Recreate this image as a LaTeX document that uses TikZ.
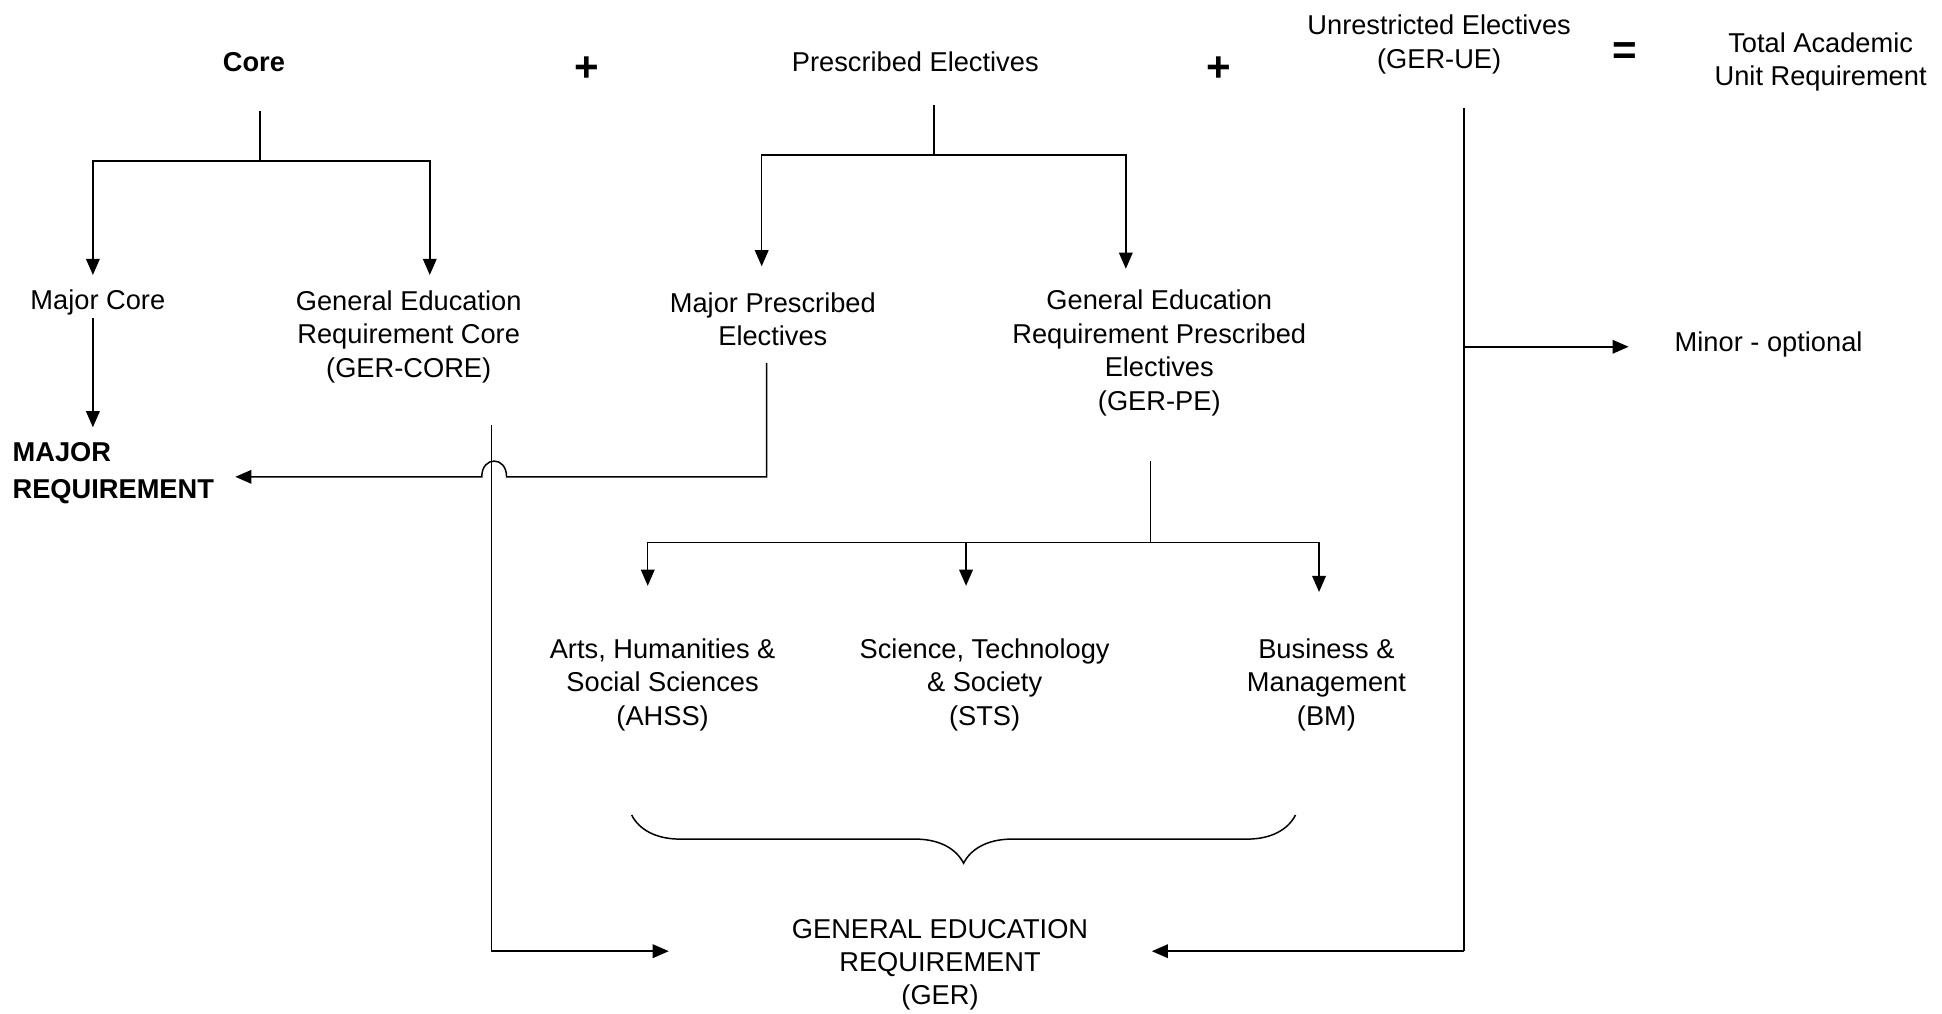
\documentclass[tikz,border=0pt]{standalone}
\usepackage{fontspec}
\setmainfont{Liberation Sans}
\usetikzlibrary{arrows.meta,positioning,decorations.pathreplacing}

\begin{document}
\begin{tikzpicture}[% styles for the whole picture, override case-by-case
			x=1pt,y=-1pt,		% one unit per pixel, y going down
			every node/.style={
				align=center,  		% so that the "\\" for line break works
				inner sep=0pt,
				font=\fontsize{22}{27}\selectfont
			},
			heavy/.style={font=\fontsize{22}{30}\selectfont\bfseries},
			sign/.style={font=\fontsize{34}{34}\selectfont\bfseries},
			wire/.style={draw,line width=1.2pt},
			flow/.style={wire,-{Triangle[length=13pt,width=11pt]}},
			every edge/.style={wire}
		]
		\useasboundingbox (0,0) rectangle (1568,818);
		% top row
		\node[heavy](Core) at (205,50){Core};
		\node[sign](PlusA) at (474,56){+};
		\node(Presc) at (739,50){Prescribed Electives};
		\node[sign](PlusB) at (984,56){+};
		\node(Unres) at (1162,36){Unrestricted Electives\\(GER-UE)};
		\node[sign](Eq) at (1312,43){=};
		\node(Total) at (1470,50){Total Academic\\Unit Requirement};
		% second row
		\node(MajCore) at (79,244){Major Core};
		\node(GerCore) at (330,272){General Education\\Requirement Core\\(GER-CORE)};
		\node(MajPresc) at (624,258){Major Prescribed\\Electives};
		\node(GerPE) at (936,285){General Education\\Requirement Prescribed\\Electives\\(GER-PE)};
		\node(Minor) at (1428,278){Minor - optional};
		\node[heavy,anchor=west,align=left](MajReq) at (10,382){MAJOR\\REQUIREMENT};
		% third row
		\node(AHSS) at (535,553){Arts, Humanities \&\\Social Sciences\\(AHSS)};
		\node(STS) at (795,553){Science, Technology\\\& Society\\(STS)};
		\node(BM) at (1071,553){Business \&\\Management\\(BM)};
		\node(GER) at (759,779){GENERAL EDUCATION\\REQUIREMENT\\(GER)};
		% joints
		\coordinate (C0) at (210,90);
		\coordinate (C1) at (210,130);
		\coordinate (C2) at (75,222);
		\coordinate (C3) at (347,222);
		\coordinate (C4) at (75,257);
		\coordinate (C5) at (75,345);
		\coordinate (P0) at (754,85);
		\coordinate (P1) at (754,125);
		\coordinate (P2) at (615,215);
		\coordinate (P3) at (909,217);
		\coordinate (M0) at (619,293);
		\coordinate (M1) at (619,385);
		\coordinate (M2) at (409,385);
		\coordinate (M3) at (389,385);
		\coordinate (M4) at (190,385);
		\coordinate (G0) at (397,343);
		\coordinate (G1) at (397,768);
		\coordinate (G2) at (540,768);
		\coordinate (E0) at (929,372);
		\coordinate (E1) at (929,438);
		\coordinate (E2) at (523,473);
		\coordinate (E3) at (780,473);
		\coordinate (E4) at (1065,478);
		\coordinate (U0) at (1182,87);
		\coordinate (U1) at (1182,280);
		\coordinate (U2) at (1315,280);
		\coordinate (U3) at (1182,768);
		\coordinate (U4) at (930,768);
		\coordinate (B0) at (1046,658);
		\coordinate (B1) at (510,658);
		% connectors
		\path
		(C0)edge [] (C1)
		(C4)edge [flow] (C5)
		(P0)edge [] (P1)
		(E0)edge [] (E1)
		(U0)edge [] (U3)
		(U1)edge [flow] (U2)
		(U3)edge [flow] (U4)
		;
		\draw[flow] (C1) -| (C2);
		\draw[flow] (C1) -| (C3);
		\draw[flow] (P1) -| (P2);
		\draw[flow] (P1) -| (P3);
		\draw[flow] (E1) -| (E2);
		\draw[flow] (E1) -| (E3);
		\draw[flow] (E1) -| (E4);
		\draw[flow] (M0) -- (M1) -- (M2) .. controls +(0,-17) and +(0,-17) .. (M3) -- (M4);
		\draw[flow] (G0) -- (G1) -- (G2);
		\draw[wire,decorate,decoration={brace,amplitude=39pt}] (B0) -- (B1);
	\end{tikzpicture}
\end{document}
